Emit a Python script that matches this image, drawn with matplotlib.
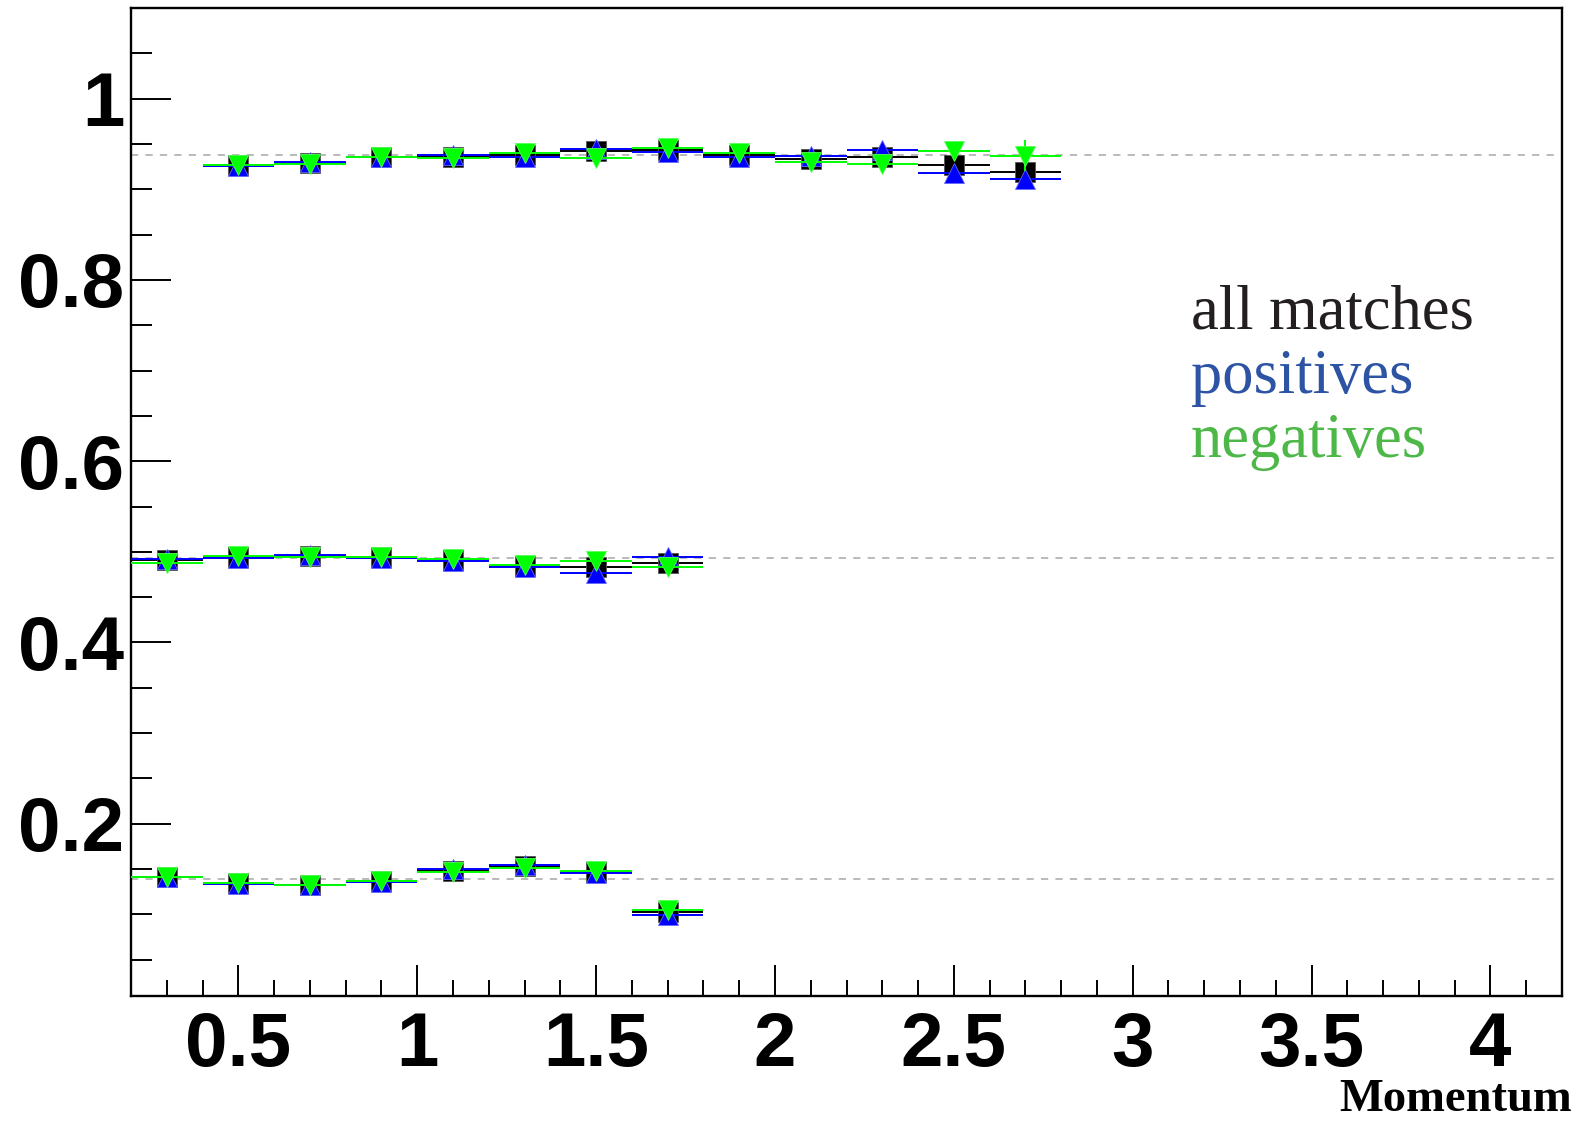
import numpy as np
import matplotlib.pyplot as plt
from matplotlib.ticker import MultipleLocator, FormatStrFormatter

# efficiency vs momentum, three groups of bins, 0.2 wide
top_x = [0.5, 0.7, 0.9, 1.1, 1.3, 1.5, 1.7, 1.9, 2.1, 2.3, 2.5, 2.7]
top_all = [0.927, 0.929, 0.936, 0.936, 0.938, 0.942, 0.943, 0.938, 0.933, 0.936, 0.927, 0.919]
top_pos = [0.926, 0.930, 0.936, 0.938, 0.936, 0.944, 0.941, 0.936, 0.937, 0.943, 0.918, 0.911]
top_neg = [0.927, 0.928, 0.936, 0.934, 0.940, 0.935, 0.945, 0.940, 0.930, 0.928, 0.942, 0.937]
top_all_err = [0.002, 0.002, 0.002, 0.002, 0.002, 0.003, 0.003, 0.004, 0.004, 0.005, 0.007, 0.009]
top_pos_err = [0.003, 0.003, 0.003, 0.003, 0.003, 0.004, 0.004, 0.005, 0.006, 0.007, 0.009, 0.011]
top_neg_err = [0.003, 0.003, 0.003, 0.003, 0.003, 0.004, 0.004, 0.005, 0.006, 0.008, 0.009, 0.017]

mid_x = [0.3, 0.5, 0.7, 0.9, 1.1, 1.3, 1.5, 1.7]
mid_all = [0.491, 0.494, 0.495, 0.494, 0.491, 0.4845, 0.483, 0.488]
mid_pos = [0.492, 0.493, 0.496, 0.4935, 0.490, 0.4835, 0.477, 0.494]
mid_neg = [0.488, 0.495, 0.494, 0.4945, 0.492, 0.4855, 0.4895, 0.483]
mid_err = [0.002, 0.002, 0.002, 0.002, 0.003, 0.003, 0.004, 0.005]

bot_x = [0.3, 0.5, 0.7, 0.9, 1.1, 1.3, 1.5, 1.7]
bot_all = [0.141, 0.1346, 0.1328, 0.1365, 0.148, 0.153, 0.147, 0.1023]
bot_pos = [0.141, 0.134, 0.1325, 0.1357, 0.1497, 0.1545, 0.146, 0.0993]
bot_neg = [0.141, 0.135, 0.133, 0.1372, 0.1464, 0.1516, 0.1475, 0.1052]
bot_err = [0.002, 0.002, 0.002, 0.002, 0.003, 0.003, 0.003, 0.004]

ref_levels = [0.938, 0.4935, 0.1395]
bin_half = 0.1

x_ticks = [0.5, 1, 1.5, 2, 2.5, 3, 3.5, 4]
y_ticks = [0.2, 0.4, 0.6, 0.8, 1]

fig = plt.figure(figsize=(15.83, 11.21), dpi=100)
ax = fig.add_axes([0.0828, 0.1115, 0.9039, 0.8814])

for lvl in ref_levels:
    ax.axhline(lvl, color='#b4b4b4', lw=1.3, ls=(0, (4, 4)), zorder=1)

series = [
    (top_x, top_all, top_pos, top_neg, top_all_err, top_pos_err, top_neg_err),
    (mid_x, mid_all, mid_pos, mid_neg, mid_err, mid_err, mid_err),
    (bot_x, bot_all, bot_pos, bot_neg, bot_err, bot_err, bot_err),
]
for x, a, p, n, ea, ep, en in series:
    ax.errorbar(x, a, xerr=bin_half, yerr=ea, fmt='s', color='black', ms=14.5,
                mec='#555555', mew=0.6, elinewidth=1.4, capsize=0, zorder=3)
    ax.errorbar(x, p, xerr=bin_half, yerr=ep, fmt='^', color='#0000ff', ms=15,
                mec='#6666ff', mew=0.6, elinewidth=1.4, capsize=0, zorder=4)
    ax.errorbar(x, n, xerr=bin_half, yerr=en, fmt='v', color='#00ff00', ms=15,
                mec='#55ff55', mew=0.6, elinewidth=1.4, capsize=0, zorder=5)

ax.set_xlim(0.2, 4.2)
ax.set_ylim(0.01, 1.1)
ax.set_xticks(x_ticks)
ax.set_yticks(y_ticks)
ax.xaxis.set_minor_locator(MultipleLocator(0.1))
ax.yaxis.set_minor_locator(MultipleLocator(0.05))
ax.xaxis.set_major_formatter(FormatStrFormatter('%g'))
ax.yaxis.set_major_formatter(FormatStrFormatter('%g'))

for s in ax.spines.values():
    s.set_linewidth(1.7)
ax.tick_params(axis='both', which='both', direction='in', top=False, right=False, width=1.4)
ax.tick_params(axis='y', which='major', length=29, pad=5)
ax.tick_params(axis='y', which='minor', length=15)
ax.tick_params(axis='x', which='major', length=22.5, pad=11)
ax.tick_params(axis='x', which='minor', length=11.3)
for lab in ax.get_xticklabels() + ax.get_yticklabels():
    lab.set_fontfamily('Liberation Sans')
    lab.set_fontweight('bold')
    lab.set_fontsize(55)

fig.text(1572 / 1583, 1 - 1111 / 1121, 'Momentum', ha='right', va='baseline',
         family='Liberation Serif', weight='bold', fontsize=33.5)

legend_rows = [('all matches', '#231f20'), ('positives', '#2d53a4'), ('negatives', '#4db848')]
for i, (txt, col) in enumerate(legend_rows):
    fig.text(0.7524, 0.7074 - i * 0.0577, txt, ha='left', va='baseline',
             family='Liberation Serif', fontsize=45, color=col)

fig.savefig('out.png', dpi=100)
